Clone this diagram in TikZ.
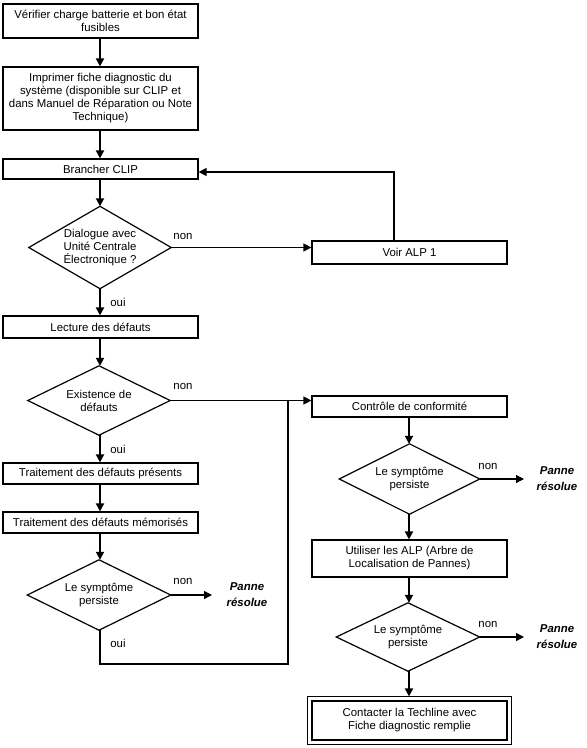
\documentclass[tikz,border=0pt]{standalone}
\usepackage{fontspec}
\setmainfont{Liberation Sans}
\usetikzlibrary{arrows.meta}
\begin{document}
\begin{tikzpicture}[x=1pt,y=1pt,
  every node/.style={font=\fontsize{11.4}{13}\selectfont, inner sep=0pt},
  box/.style={draw, line width=1.2pt, minimum width=195pt, align=center},
  dnode/.style={align=center},
  dline/.style={line width=1.2pt, line join=miter},
  arr/.style={-{Triangle[length=8pt,width=8pt]}, line width=1.2pt},
  varr/.style={-{Triangle[length=8pt,width=8pt]}, line width=1.8pt},
  plain/.style={line width=1.2pt},
  lbl/.style={anchor=center},
  res/.style={align=center, font=\fontsize{11.4}{16}\selectfont\bfseries\itshape}
]
\fill[white] (0,0) rectangle (587,-748);
\useasboundingbox (0,0) rectangle (587,-748);

% left column boxes
\node[box, minimum height=34pt] (b1) at (100.5,-21) {Vérifier charge batterie et bon état\\fusibles};
\node[box, minimum height=63pt] (b2) at (100.5,-98.5) {Imprimer fiche diagnostic du\\système (disponible sur CLIP et\\dans Manuel de Réparation ou Note\\Technique)};
\node[box, minimum height=20pt] (b3) at (100.5,-169) {Brancher CLIP};
\node[box, minimum height=22pt] (lect) at (100.5,-327) {Lecture des défauts};
\node[box, minimum height=21pt] (pres) at (100.5,-473.5) {Traitement des défauts présents};
\node[box, minimum height=21pt] (memo) at (100.5,-522.5) {Traitement des défauts mémorisés};

% right column boxes
\node[box, minimum height=23pt] (voir) at (409.5,-252.5) {Voir ALP 1};
\node[box, minimum height=21pt] (ctrl) at (409.5,-406.5) {Contrôle de conformité};
\node[box, minimum height=37pt] (alp) at (409.5,-558.5) {Utiliser les ALP (Arbre de\\Localisation de Pannes)};
\node[box, minimum height=39pt] (tech) at (409.5,-720.5) {Contacter la Techline avec\\Fiche diagnostic remplie};
\draw[plain] ([shift={(-4,-4)}]tech.south west) rectangle ([shift={(4,4)}]tech.north east);

% diamonds
\node[dnode, minimum width=142pt, minimum height=82pt] (d1) at (100,-247.5) {Dialogue avec\\Unité Centrale\\Électronique ?};
\node[dnode, minimum width=142pt, minimum height=69pt] (d2) at (99,-400.5) {Existence de\\défauts};
\node[dnode, minimum width=143pt, minimum height=70pt] (d3) at (99,-595) {Le symptôme\\persiste};
\node[dnode, minimum width=140pt, minimum height=70pt] (d4) at (409.5,-479) {Le symptôme\\persiste};
\node[dnode, minimum width=143pt, minimum height=68pt] (d5) at (408,-637) {Le symptôme\\persiste};
\foreach \d in {d1,d2,d3,d4,d5}
  \draw[dline] (\d.north) -- (\d.east) -- (\d.south) -- (\d.west) -- cycle;

% Panne résolue
\node[res] (r1) at (247,-595) {Panne\\résolue};
\node[res] (r2) at (557,-479) {Panne\\résolue};
\node[res] (r3) at (557,-637) {Panne\\résolue};

% labels
\node[lbl] (n1) at (183,-236) {non};
\node[lbl] (o1) at (118,-302) {oui};
\node[lbl] (n2) at (183,-386) {non};
\node[lbl] (o2) at (118,-449) {oui};
\node[lbl] (n3) at (183,-581) {non};
\node[lbl] (o3) at (118,-643) {oui};
\node[lbl] (n4) at (488,-466) {non};
\node[lbl] (n5) at (488,-624) {non};

% coordinates
\coordinate (loopTop) at (394,-172);
\coordinate (joinB) at (288,-664);
\coordinate (e3) at (212,-595);
\coordinate (e4) at (524,-479);
\coordinate (e5) at (524,-637);

% vertical arrows left
\draw[varr] (b1.south -| 100,0) -- (b2.north -| 100,0);
\draw[varr] (b2.south -| 100,0) -- (b3.north -| 100,0);
\draw[varr] (b3.south -| 100,0) -- (d1.north);
\draw[varr] (d1.south) -- (lect.north -| d1.south);
\draw[varr] (lect.south -| 100,0) -- (d2.north -| 100,0);
\draw[varr] (d2.south -| 100,0) -- (pres.north -| 100,0);
\draw[varr] (pres.south -| 100,0) -- (memo.north -| 100,0);
\draw[varr] (memo.south -| 100,0) -- (d3.north -| 100,0);

% vertical arrows right
\draw[varr] (ctrl.south -| 409,0) -- (d4.north -| 409,0);
\draw[varr] (d4.south -| 409,0) -- (alp.north -| 409,0);
\draw[varr] (alp.south -| 409,0) -- (d5.north -| 409,0);
\draw[varr] (d5.south -| 409,0) -- ([yshift=4pt]tech.north -| 409,0);

% horizontal connectors
\draw[arr] (d1.east) -- (d1.east -| voir.west);
\draw[arr] (voir.north -| loopTop) -- (loopTop) -- (loopTop -| b3.east);
\draw[arr] (d2.east) -- (d2.east -| ctrl.west);
\draw[arr] (d3.east) -- (e3);
\draw[arr] (d4.east) -- (e4);
\draw[arr] (d5.east) -- (e5);

% oui loop from d3
\draw[plain] (d3.south -| 100,0) -- (joinB -| 100,0) -- (joinB) -- (joinB |- d2.east);
\end{tikzpicture}
\end{document}
